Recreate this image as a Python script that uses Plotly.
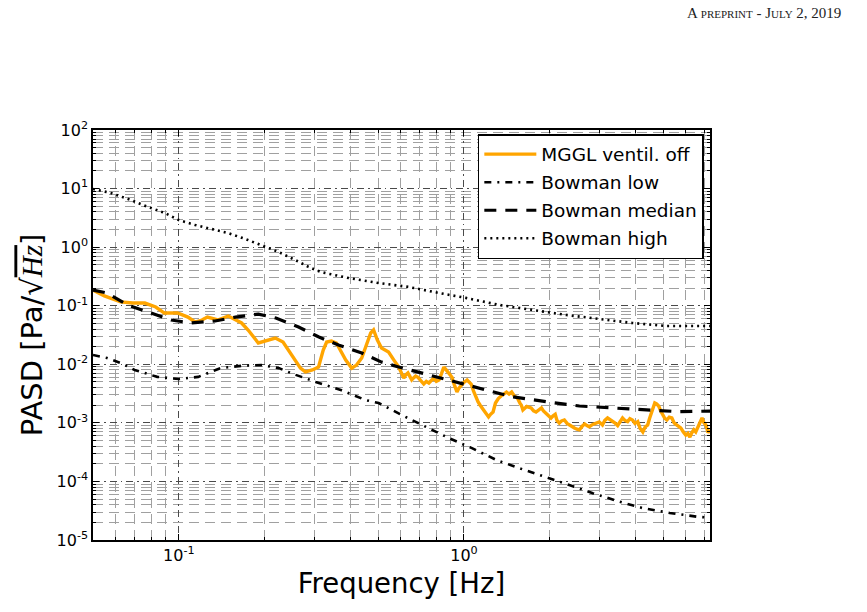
import plotly.graph_objects as go

# ---------------- data ----------------
mggl_f = [0.05, 0.0548, 0.0625, 0.0689, 0.076, 0.083, 0.089, 0.099, 0.1076, 0.114,
          0.1205, 0.126, 0.137, 0.149, 0.166, 0.175, 0.19, 0.202, 0.218, 0.232,
          0.242, 0.257, 0.267, 0.278, 0.294, 0.309, 0.321, 0.33, 0.343, 0.357,
          0.372, 0.385, 0.404, 0.42, 0.438, 0.455, 0.471, 0.482, 0.497, 0.514,
          0.544, 0.568,
          0.59, 0.603, 0.615, 0.625, 0.636, 0.646, 0.656, 0.667, 0.677, 0.69,
          0.705, 0.723, 0.738, 0.753, 0.768, 0.783, 0.80, 0.817, 0.833, 0.85,
          0.865, 0.879, 0.893, 0.908, 0.925, 0.945, 0.96, 0.975, 1.0, 1.026,
          1.043, 1.06, 1.08, 1.10, 1.12, 1.14, 1.157, 1.175, 1.2, 1.22,
          1.24, 1.265, 1.29, 1.32, 1.35, 1.38, 1.41, 1.44, 1.47, 1.5,
          1.54, 1.57, 1.59, 1.61, 1.66, 1.72, 1.755, 1.79, 1.83, 1.87,
          1.9, 1.94, 1.98, 2.02, 2.055, 2.09, 2.12, 2.16, 2.2, 2.25,
          2.3, 2.34, 2.39, 2.44, 2.49, 2.54, 2.6, 2.65, 2.7, 2.75,
          2.83, 2.91, 2.98, 3.06, 3.12, 3.19, 3.25, 3.3, 3.38, 3.46,
          3.53, 3.6, 3.67, 3.75, 3.82, 3.9, 3.98, 4.07, 4.15, 4.24,
          4.32, 4.41, 4.48, 4.55, 4.61, 4.67, 4.74, 4.82, 4.9, 4.97,
          5.06, 5.15, 5.25, 5.36, 5.46, 5.57, 5.66, 5.76, 5.88, 6.0,
          6.1, 6.2, 6.3, 6.4, 6.5, 6.6, 6.72, 6.84, 6.95, 7.06,
          7.18, 7.3]
mggl_v = [0.185, 0.147, 0.116, 0.111, 0.111, 0.095, 0.075, 0.075, 0.064, 0.0527,
          0.057, 0.064, 0.057, 0.0667, 0.0507, 0.0385, 0.0231, 0.025, 0.0281, 0.024,
          0.0175, 0.0118, 0.0086, 0.0074, 0.008, 0.009, 0.0175, 0.024, 0.025, 0.0231,
          0.0162, 0.0118, 0.0086, 0.0097, 0.0128, 0.0213, 0.0342, 0.0385, 0.026, 0.019,
          0.0162, 0.0118,
          0.009, 0.0072, 0.0058, 0.0066, 0.0071, 0.0062, 0.0054, 0.0059, 0.0063, 0.006,
          0.0052, 0.0046, 0.0051, 0.0048, 0.0053, 0.0058, 0.0051, 0.0054, 0.0068, 0.009,
          0.0081, 0.0073, 0.0066, 0.006, 0.0045, 0.00336, 0.0039, 0.0043, 0.0049, 0.0054,
          0.005, 0.0046, 0.0035, 0.00276, 0.0023, 0.002, 0.0018, 0.00166, 0.0014, 0.00126,
          0.0014, 0.00153, 0.00218, 0.0026, 0.00288, 0.0031, 0.00336, 0.0031, 0.00336, 0.0029,
          0.00265, 0.0022, 0.002, 0.00166, 0.0019, 0.0018, 0.0016, 0.00153, 0.0017, 0.0018,
          0.0016, 0.00147, 0.0013, 0.00121, 0.00132, 0.0014, 0.0011, 0.00099, 0.00108, 0.00112,
          0.00098, 0.00092, 0.00086, 0.00082, 0.00078, 0.00076, 0.00088, 0.00096, 0.0009, 0.00086,
          0.00094, 0.00099, 0.00104, 0.00092, 0.0011, 0.00121, 0.00114, 0.00112, 0.001, 0.0009,
          0.00105, 0.00121, 0.0011, 0.00105, 0.00118, 0.00112, 0.00098, 0.00105, 0.0008, 0.0007,
          0.00085, 0.00092, 0.0012, 0.00153, 0.0019, 0.00218, 0.0021, 0.00194, 0.0016, 0.00136,
          0.0012, 0.00112, 0.00125, 0.00121, 0.001, 0.00092, 0.00088, 0.00082, 0.0007, 0.00062,
          0.00066, 0.00057, 0.00068, 0.00076, 0.0007, 0.00082, 0.001, 0.00121, 0.001, 0.00092,
          0.00068, 0.00076]

low_f = [0.05, 0.056, 0.0625, 0.07, 0.084, 0.1, 0.117, 0.14, 0.166, 0.195,
         0.224, 0.257, 0.302, 0.372, 0.452, 0.502, 0.605, 0.735, 0.885, 1.067,
         1.30, 1.56, 1.95, 2.34, 2.83, 3.52, 4.24, 5.27, 6.56, 7.3]
low_v = [0.0144, 0.0128, 0.0105, 0.008, 0.0061, 0.0056, 0.0061, 0.0086, 0.0094, 0.0097,
         0.0086, 0.0066, 0.005, 0.0036, 0.00245, 0.00218, 0.00136, 0.00085, 0.00055, 0.00037,
         0.000232, 0.000169, 0.000119, 8.7e-5, 6.3e-5, 4.5e-5, 3.5e-5, 2.9e-5, 2.5e-5, 2.4e-5]

median_f = [0.05, 0.056, 0.066, 0.078, 0.094, 0.11, 0.134, 0.158, 0.19, 0.219,
            0.263, 0.31, 0.363, 0.438, 0.514, 0.59, 0.71, 0.865, 1.016, 1.19,
            1.47, 1.94, 2.54, 3.3, 4.36, 5.7, 7.3]
median_v = [0.185, 0.165, 0.103, 0.078, 0.057, 0.0507, 0.0548, 0.064, 0.072, 0.0617,
            0.0433, 0.0292, 0.0213, 0.0156, 0.0109, 0.009, 0.0071, 0.0054, 0.0044, 0.0036,
            0.0028, 0.0023, 0.00194, 0.0018, 0.00166, 0.00155, 0.00159]

high_f = [0.05, 0.0577, 0.0678, 0.078, 0.0893, 0.1, 0.114, 0.13, 0.149, 0.171,
          0.195, 0.224, 0.256, 0.285, 0.315, 0.394, 0.502, 0.64, 0.817, 1.016,
          1.33, 1.73, 2.29, 2.99, 3.9, 5.15, 6.7, 7.3]
high_v = [9.85, 8.4, 6.4, 4.85, 3.83, 2.9, 2.39, 2.04, 1.74, 1.38,
          1.09, 0.826, 0.603, 0.46, 0.375, 0.297, 0.244, 0.209, 0.165, 0.136,
          0.103, 0.0845, 0.0694, 0.0593, 0.0507, 0.045, 0.045, 0.045]

names = ["MGGL ventil. off", "Bowman low", "Bowman median", "Bowman high"]

x_major = [0.1, 1.0]
x_major_text = ["10<sup>-1</sup>", "10<sup>0</sup>"]
y_major = [1e-5, 1e-4, 1e-3, 1e-2, 1e-1, 1e0, 1e1, 1e2]
y_major_text = ["10<sup>-5</sup>", "10<sup>-4</sup>", "10<sup>-3</sup>", "10<sup>-2</sup>",
                "10<sup>-1</sup>", "10<sup>0</sup>", "10<sup>1</sup>", "10<sup>2</sup>"]
x_minor = [m * d for d in (0.01, 0.1, 1.0) for m in range(2, 10)]
y_minor = [m * 10.0 ** e for e in range(-5, 2) for m in range(2, 10)]

# ---------------- figure ----------------
FONT = "DejaVu Sans"
fig = go.Figure()
fig.add_trace(go.Scatter(x=mggl_f, y=mggl_v, mode="lines", name=names[0],
                         legendgroup="a",
                         line=dict(color="#FFA500", width=3.4)))
fig.add_trace(go.Scatter(x=low_f, y=low_v, mode="lines", name=names[1],
                         legendgroup="b",
                         line=dict(color="black", width=2.6, dash="7px,6px,2px,6px")))
fig.add_trace(go.Scatter(x=median_f, y=median_v, mode="lines", name=names[2],
                         legendgroup="c",
                         line=dict(color="black", width=3.2, dash="12px,9px")))
fig.add_trace(go.Scatter(x=high_f, y=high_v, mode="lines", name=names[3],
                         legendgroup="d",
                         line=dict(color="black", width=2.6, dash="2px,4px")))

axis_common = dict(
    type="log", showline=True, linecolor="black", linewidth=1.5, mirror="allticks",
    ticks="inside", ticklen=6, tickwidth=1, tickcolor="black",
    showgrid=True, gridcolor="#4a4a4a", gridwidth=1, griddash="7px,4px,1.5px,4px",
    zeroline=False, tickfont=dict(family=FONT, size=16, color="black"),
)

fig.update_xaxes(
    **axis_common,
    range=[-1.301, 0.863],
    tickmode="array", tickvals=x_major, ticktext=x_major_text,
    minor=dict(tickmode="array", tickvals=x_minor, ticks="inside", ticklen=3,
               tickcolor="black", showgrid=True, gridcolor="#a0a0a0",
               griddash="10px,6px", gridwidth=1),
    title=dict(text="Frequency [Hz]", font=dict(family=FONT, size=27.5, color="black"),
               standoff=10),
)
fig.update_yaxes(
    **axis_common,
    range=[-5, 2],
    tickmode="array", tickvals=y_major, ticktext=y_major_text,
    minor=dict(tickmode="array", tickvals=y_minor, ticks="inside", ticklen=3,
               tickcolor="black", showgrid=True, gridcolor="#a0a0a0",
               griddash="10px,6px", gridwidth=1),
    title=dict(text='PASD [Pa/√<span style="text-decoration:overline;font-family:\'Liberation Serif\';font-style:italic">Hz</span>]',
               font=dict(family=FONT, size=29, color="black"), standoff=5),
)

fig.update_layout(
    width=867, height=612,
    margin=dict(l=93, r=157, t=130, b=72),
    paper_bgcolor="white", plot_bgcolor="white",
    font=dict(family=FONT, color="black"),
    legend=dict(x=0.99, y=0.99, xanchor="right", yanchor="top",
                bgcolor="white", bordercolor="black", borderwidth=1.5,
                font=dict(family=FONT, size=18.5, color="black"),
                traceorder="grouped", tracegroupgap=1, itemwidth=52),
    annotations=[dict(
        text='A <span style="font-size:11px">PREPRINT</span> - J<span style="font-size:11px">ULY</span> 2, 2019',
        xref="paper", yref="paper", x=1.2155, y=1.285, xanchor="right", yanchor="middle",
        showarrow=False, font=dict(family="Liberation Serif", size=15, color="#222"),
    )],
)

fig.write_html("out.html")
